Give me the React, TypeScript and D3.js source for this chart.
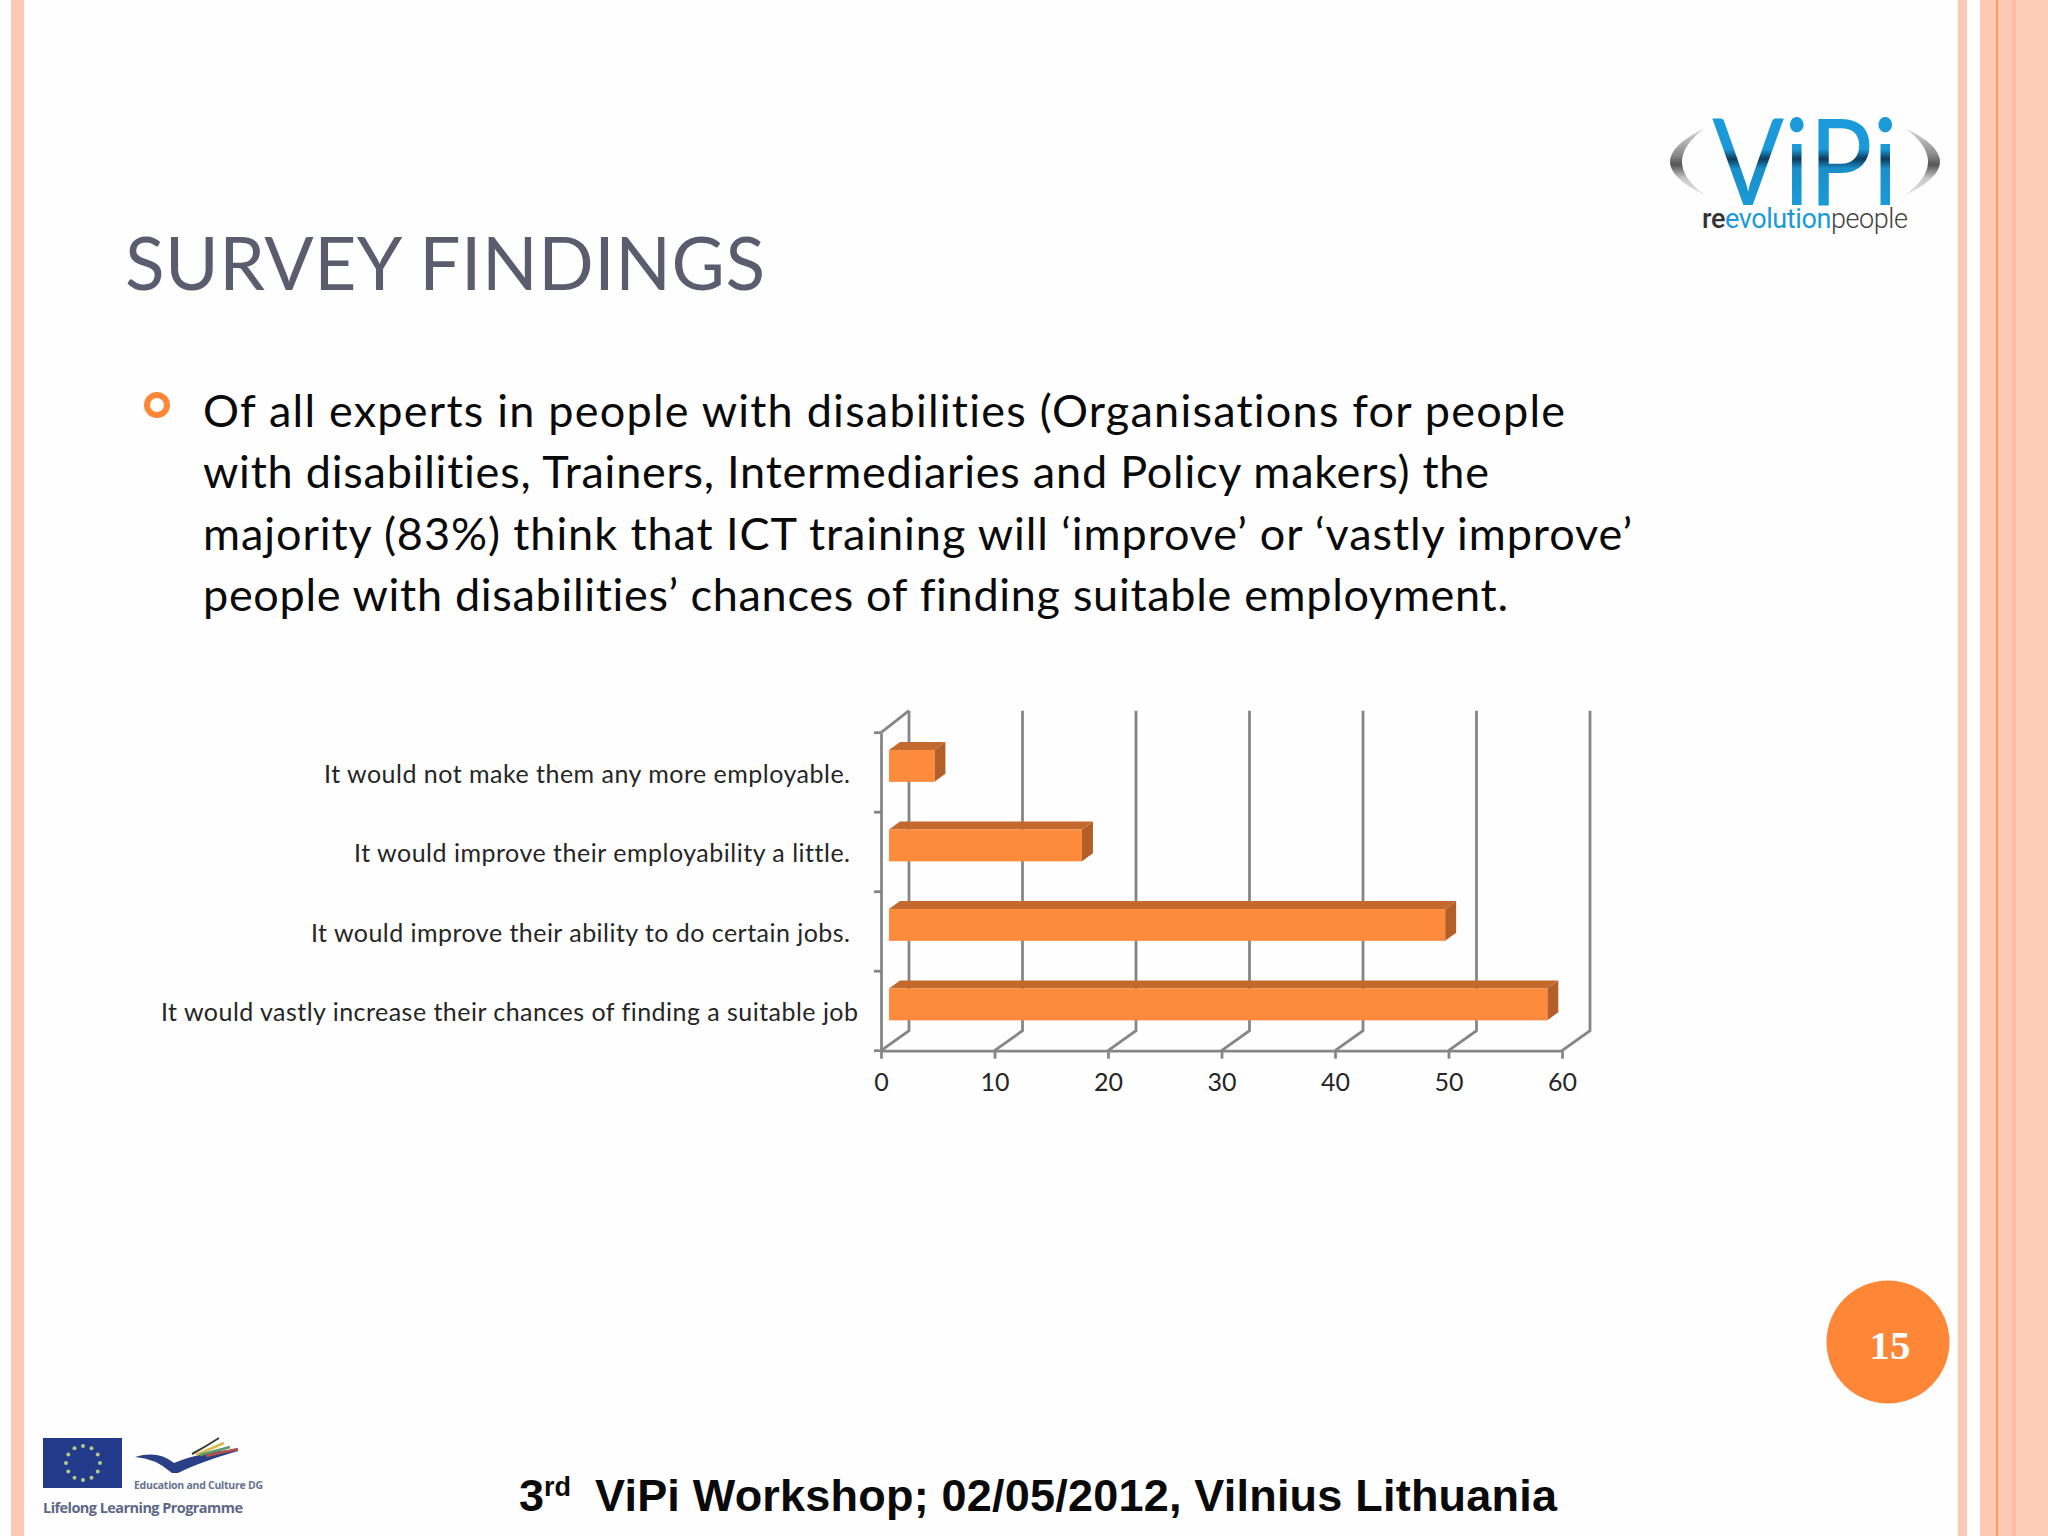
import { useEffect, useRef } from "react";
import * as d3 from "d3";

const categories = [
  "It would not make them any more employable.",
  "It would improve their employability a little.",
  "It would improve their ability to do certain jobs.",
  "It would vastly increase their chances of finding a suitable job",
];
const responses = [4, 17, 49, 58];
const xTicks = [0, 10, 20, 30, 40, 50, 60];

const bodyLines = [
  "Of all experts in people with disabilities (Organisations for people",
  "with disabilities, Trainers, Intermediaries and Policy makers) the",
  "majority (83%) think that ICT training will ‘improve’ or ‘vastly improve’",
  "people with disabilities’ chances of finding suitable employment.",
];

// widths measured on the slide, the original font is not installed
const bodyWidths = [1362, 1286, 1429, 1305];
const labelWidths = [526, 496, 539, 697];

const FONT = "Lato, 'Open Sans', sans-serif";
const PEACH = "#fdc8b4";
const AXIS = "#868686";

const plot = { left: 881, right: 1562, top: 732.7, bottom: 1050.7, depthX: 28, depthY: 20 };
const bar = { inset: 8, lift: -6.5, depthX: 11, depthY: 8 };

function Chart() {
  const ref = useRef<SVGGElement>(null);

  useEffect(() => {
    if (!ref.current) return;
    const g = d3.select(ref.current);
    g.selectAll("*").remove();

    const x = d3.scaleLinear().domain([0, 60]).range([plot.left, plot.right]);
    const y = d3
      .scaleBand<string>()
      .domain(categories)
      .range([plot.top, plot.bottom])
      .paddingInner(0.6)
      .paddingOuter(0.3);

    // Back wall and floor lines
    g.selectAll("path.wall")
      .data(xTicks)
      .enter()
      .append("path")
      .attr("class", "wall")
      .attr("fill", "none")
      .attr("stroke", AXIS)
      .attr("stroke-width", 2.8)
      .attr(
        "d",
        (d) =>
          `M${x(d)},${plot.bottom}L${x(d) + plot.depthX},${plot.bottom - plot.depthY}V${plot.top - plot.depthY - 2}`
      );
    g.append("path")
      .attr("fill", "none")
      .attr("stroke", AXIS)
      .attr("stroke-width", 2.8)
      .attr("d", `M${x(0)},${plot.top}L${x(0) + plot.depthX},${plot.top - plot.depthY - 2}`);

    // X axis
    const xAxis = g
      .append("g")
      .attr("transform", `translate(0,${plot.bottom})`)
      .call(d3.axisBottom(x).tickValues(xTicks).tickSize(8).tickSizeOuter(0).tickPadding(15));
    xAxis.selectAll("path,line").attr("stroke", AXIS).attr("stroke-width", 2.8);
    xAxis
      .selectAll("text")
      .attr("fill", "#262626")
      .style("font-family", FONT)
      .style("font-size", "25px");

    // Y axis, ticks sit between the bands
    const yAxis = g
      .append("g")
      .attr("transform", `translate(${plot.left},0)`)
      .call(d3.axisLeft(y).tickSize(0).tickPadding(31));
    yAxis.select("path").attr("stroke", AXIS).attr("stroke-width", 2.8);
    yAxis
      .selectAll("text")
      .attr("fill", "#262626")
      .attr("y", 2.5)
      .attr("dx", (_, i) => (i === 3 ? 8 : 0))
      .attr("textLength", (_, i) => labelWidths[i])
      .attr("lengthAdjust", "spacing")
      .style("font-family", FONT)
      .style("font-size", "25px");
    yAxis
      .selectAll("line.boundary")
      .data(d3.range(categories.length + 1))
      .enter()
      .append("line")
      .attr("class", "boundary")
      .attr("x1", -7)
      .attr("x2", 0)
      .attr("y1", (i) => plot.top + i * y.step())
      .attr("y2", (i) => plot.top + i * y.step())
      .attr("stroke", AXIS)
      .attr("stroke-width", 2.8);

    // Bars, each one is a front, a top and a side
    const rows = categories.map((c, i) => ({ c, v: responses[i] }));
    const barG = g
      .selectAll("g.bar")
      .data(rows)
      .enter()
      .append("g")
      .attr("class", "bar")
      .attr("transform", (d) => `translate(${x(0) + bar.inset},${y(d.c)! + bar.lift})`);
    const w = (v: number) => x(v) - x(0);
    const h = y.bandwidth();
    barG
      .append("path")
      .attr("fill", "#c4692e")
      .attr(
        "d",
        (d) => `M0,0L${bar.depthX},${-bar.depthY}H${w(d.v) + bar.depthX}L${w(d.v)},0Z`
      );
    barG
      .append("path")
      .attr("fill", "#b55f28")
      .attr(
        "d",
        (d) =>
          `M${w(d.v)},0L${w(d.v) + bar.depthX},${-bar.depthY}V${h - bar.depthY}L${w(d.v)},${h}Z`
      );
    barG
      .append("rect")
      .attr("width", (d) => w(d.v))
      .attr("height", h)
      .attr("fill", "#fe8b3c");
  }, []);

  return <g ref={ref} />;
}

function Logo() {
  return (
    <g>
      <defs>
        <linearGradient id="vipiFill" gradientUnits="userSpaceOnUse" x1="0" y1="118" x2="0" y2="205">
          <stop offset="0" stopColor="#1a9ad8" />
          <stop offset="0.36" stopColor="#1a9ad8" />
          <stop offset="0.47" stopColor="#0c3c5c" />
          <stop offset="0.58" stopColor="#1a8fc8" />
          <stop offset="1" stopColor="#1a9ad8" />
        </linearGradient>
        <linearGradient id="parenFill" gradientUnits="userSpaceOnUse" x1="0" y1="128" x2="0" y2="195">
          <stop offset="0" stopColor="#dcdcdc" />
          <stop offset="0.4" stopColor="#8a8a8a" />
          <stop offset="0.55" stopColor="#555" />
          <stop offset="0.75" stopColor="#c8c8c8" />
          <stop offset="1" stopColor="#e0e0e0" />
        </linearGradient>
      </defs>
      <path d="M1705,128Q1635,162 1705,195Q1659,162 1705,128Z" fill="url(#parenFill)" />
      <path d="M1905,128Q1975,162 1905,195Q1951,162 1905,128Z" fill="url(#parenFill)" />
      <text
        x={1712}
        y={205}
        textLength={186}
        lengthAdjust="spacingAndGlyphs"
        fontFamily={FONT}
        fontSize={121}
        fill="url(#vipiFill)"
      >
        ViPi
      </text>
      <text
        x={1702}
        y={228}
        textLength={206}
        lengthAdjust="spacing"
        fontFamily="Roboto, sans-serif"
        fontSize={27}
      >
        <tspan fill="#333" fontWeight={500}>re</tspan>
        <tspan fill="#1a9ad8" fontWeight={400}>evolution</tspan>
        <tspan fill="#444" fontWeight={300}>people</tspan>
      </text>
    </g>
  );
}

function EuLogos() {
  const stars = d3.range(12).map((i) => (i * Math.PI) / 6);
  return (
    <g>
      <rect x={43} y={1438} width={79} height={50} fill="#23398a" />
      {stars.map((a, i) => (
        <circle
          key={i}
          cx={83 + 17 * Math.sin(a)}
          cy={1463 - 17 * Math.cos(a)}
          r={2}
          fill="#b9c68a"
        />
      ))}
      <path
        d="M135,1457Q155,1458 172,1473L178,1473Q200,1462 238,1451L238,1449Q200,1452 174,1463Q158,1450 135,1457Z"
        fill="#2a3f86"
      />
      <path d="M192,1454Q205,1447 219,1438" stroke="#3c3c2c" strokeWidth={2} fill="none" />
      <path d="M196,1455Q210,1449 224,1443" stroke="#d9b84a" strokeWidth={2.5} fill="none" />
      <path d="M200,1455Q215,1451 230,1447" stroke="#5a9a6a" strokeWidth={2.5} fill="none" />
      <path d="M206,1456Q222,1452 238,1449" stroke="#b8504a" strokeWidth={2.5} fill="none" />
      <text x={134} y={1489} fontFamily="'Open Sans', sans-serif" fontWeight={700} fontSize={10.5} fill="#66738f" textLength={129} lengthAdjust="spacing">
        Education and Culture DG
      </text>
      <text x={43} y={1513} fontFamily="'Open Sans', sans-serif" fontWeight={700} fontSize={14.5} fill="#5b6785" textLength={200} lengthAdjust="spacing">
        Lifelong Learning Programme
      </text>
    </g>
  );
}

export default function App() {
  return (
    <>
      <style>{`body{margin:0} text{font-variant-ligatures:none}`}</style>
      <svg width={2048} height={1536} style={{ display: "block" }}>
        <rect width={2048} height={1536} fill="#fefefe" />

        {/* Slide frame */}
        <rect x={11} width={13} height={1536} fill={PEACH} />
        <rect x={1958} width={9} height={1536} fill={PEACH} />
        <rect x={1980} width={68} height={1536} fill={PEACH} />
        <rect x={1996} width={2} height={1536} fill="#fe9a5c" />
        <rect x={2012} width={4} height={1536} fill="#fbbda6" />
        <rect x={2016} width={32} height={1536} fill="#fdccb6" />

        <Logo />

        <text x={125} y={290} fontFamily={FONT} fontSize={73} fill="#5a5d6e" textLength={640}>
          SURVEY FINDINGS
        </text>

        <circle cx={157} cy={405} r={10} fill="none" stroke="#fe8637" strokeWidth={6} />
        {bodyLines.map((line, i) => (
          <text
            key={i}
            x={203}
            y={427 + i * 61.4}
            fontFamily={FONT}
            fontSize={45}
            fill="#0a0a0a"
            textLength={bodyWidths[i]}
            lengthAdjust="spacing"
          >
            {line}
          </text>
        ))}

        <Chart />

        <circle cx={1888} cy={1342} r={61.5} fill="#fe8637" />
        <text
          x={1890}
          y={1359}
          textAnchor="middle"
          fontFamily="'Liberation Serif', serif"
          fontWeight={700}
          fontSize={41}
          fill="#fff"
        >
          15
        </text>

        <EuLogos />

        <text x={519} y={1511} fontFamily="'Liberation Sans', sans-serif" fontWeight={700} fontSize={45} fill="#0a0a0a">
          3
          <tspan dy={-15} fontSize={27}>rd</tspan>
          <tspan x={595} dy={15} textLength={962} lengthAdjust="spacing">ViPi Workshop; 02/05/2012, Vilnius Lithuania</tspan>
        </text>
      </svg>
    </>
  );
}
